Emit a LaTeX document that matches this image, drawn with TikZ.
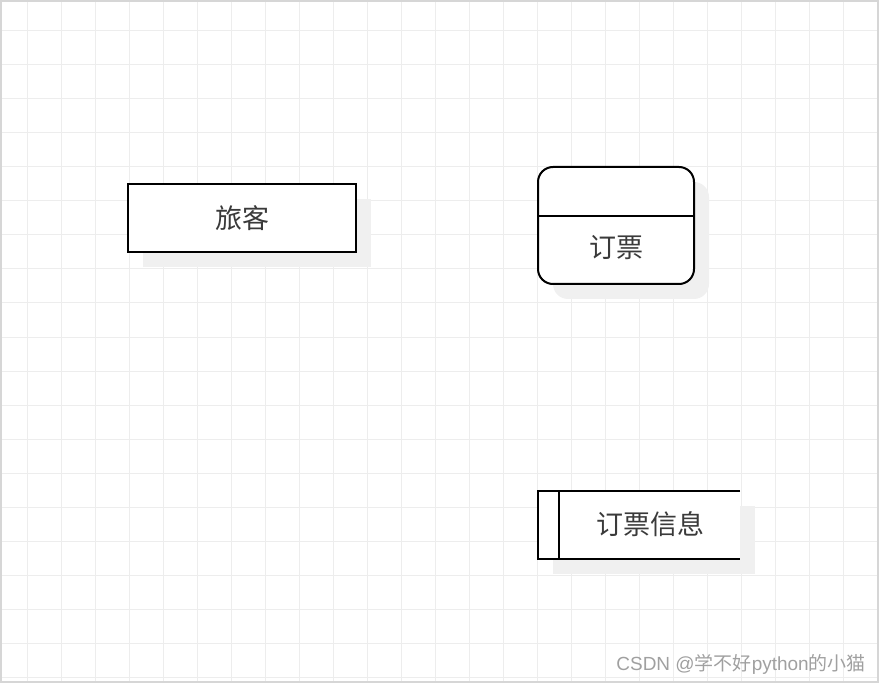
\documentclass[tikz,border=0pt]{standalone}
\usepackage{fontspec}
\setmainfont{Noto Sans CJK SC}
\newfontfamily\latinfont{Liberation Sans}
\definecolor{gridgray}{HTML}{EDEDED}
\definecolor{framegray}{HTML}{D6D6D6}
\definecolor{shadowgray}{HTML}{F0F0F0}
\definecolor{textgray}{HTML}{3A3A3A}
\definecolor{markgray}{HTML}{A0A0A0}
\tikzset{
  shapeline/.style={black, line width=2},
  shadowbox/.style={fill=shadowgray, draw=none},
  chartext/.style={text=textgray, font=\fontsize{27}{32}\selectfont, inner sep=0},
}

\begin{document}
\begin{tikzpicture}[x=1pt, y=-1pt]
\useasboundingbox (0,0) rectangle (880,684);

% draw grid
\foreach \gx in {27,61,...,878} \draw[gridgray, line width=1] (\gx,1) -- (\gx,682);
\foreach \gy in {31,65,...,682} \draw[gridgray, line width=1] (1,\gy) -- (878,\gy);
\draw[framegray, line width=1.2] (1,1) rectangle (878,682);

% draw shadows
\fill[shadowbox] (143,199) rectangle (371,267);
\fill[shadowbox, rounded corners=15] (553,182) rectangle (709,299);
\fill[shadowbox] (553,506) rectangle (755,574);

% external entity
\node[shapeline, draw, fill=white, minimum width=228, minimum height=68, inner sep=0] (passenger) at (242,218) {};
\node[chartext] (passengertext) at (passenger.center) {旅客};

% process
\node[shapeline, draw, fill=white, rounded corners=15, minimum width=156, minimum height=117, inner sep=0] (booking) at (616,225.5) {};
\draw[shapeline] ([yshift=9.5]booking.west) -- ([yshift=9.5]booking.east);
\node[chartext] (bookingtext) at (616,248) {订票};

% data store
\node[fill=white, minimum width=202, minimum height=68, inner sep=0] (ticketinfo) at (639,525) {};
\draw[shapeline] (ticketinfo.north east) -- (ticketinfo.north west) -- (ticketinfo.south west) -- (ticketinfo.south east);
\draw[shapeline] ([xshift=21]ticketinfo.north west) -- ([xshift=21]ticketinfo.south west);
\node[chartext] (ticketinfotext) at (650,524) {订票信息};

% watermark
\node[text=markgray, font=\fontsize{19}{22}\selectfont, anchor=east, inner sep=0] (mark) at (866,664) {{\latinfont CSDN @}学不好{\latinfont python}的小猫};

\end{tikzpicture}
\end{document}
